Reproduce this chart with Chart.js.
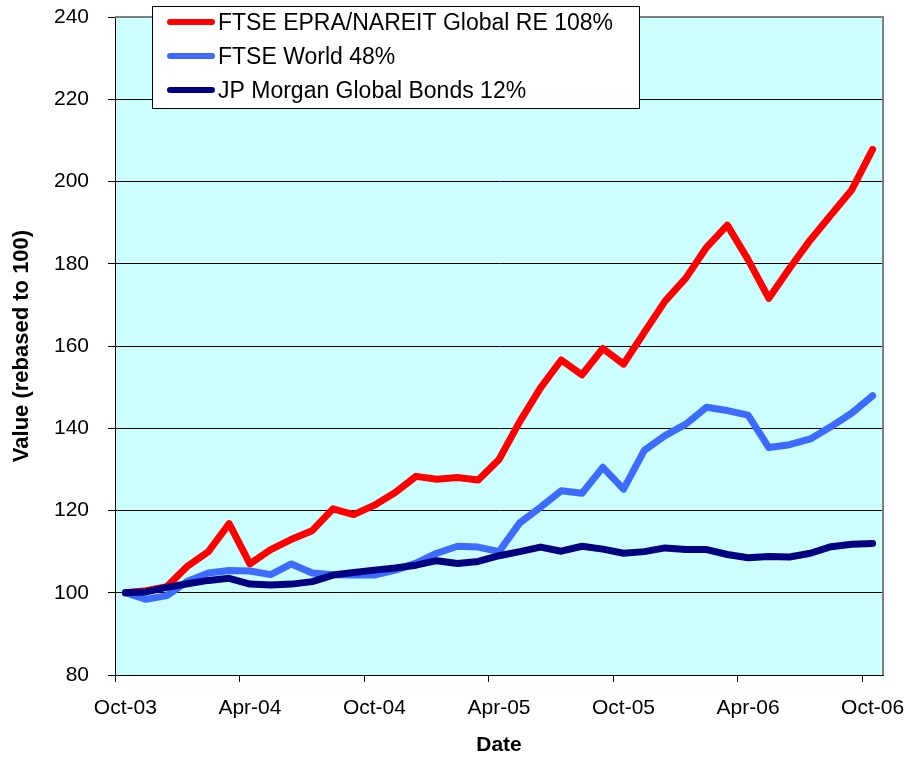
<!DOCTYPE html>
<html>
<head>
<meta charset="utf-8">
<script src="https://cdn.jsdelivr.net/npm/chart.js@4/dist/chart.umd.min.js"></script>
<style>
  html, body { margin: 0; padding: 0; background: #fff; }
  #wrap { width: 907px; height: 757px; }
</style>
</head>
<body>
<div id="wrap"><canvas id="chart" width="907" height="757"></canvas></div>
<script>
// monthly points, Oct-03 .. Oct-06
const months = [
  'Oct-03', 'Nov-03', 'Dec-03', 'Jan-04', 'Feb-04', 'Mar-04', 'Apr-04', 'May-04', 'Jun-04',
  'Jul-04', 'Aug-04', 'Sep-04', 'Oct-04', 'Nov-04', 'Dec-04', 'Jan-05', 'Feb-05', 'Mar-05',
  'Apr-05', 'May-05', 'Jun-05', 'Jul-05', 'Aug-05', 'Sep-05', 'Oct-05', 'Nov-05', 'Dec-05',
  'Jan-06', 'Feb-06', 'Mar-06', 'Apr-06', 'May-06', 'Jun-06', 'Jul-06', 'Aug-06', 'Sep-06', 'Oct-06'
]

const globalRE = [
  100, 100.5, 101.5, 106.5, 110.0, 116.8, 107.0, 110.5, 113.0, 115.1,
  120.4, 119.0, 121.3, 124.4, 128.3, 127.6, 128.0, 127.4, 132.4, 141.6,
  149.8, 156.6, 153.0, 159.4, 155.6, 163.3, 170.9, 176.5, 184.0, 189.4,
  181.0, 171.6, 178.9, 185.8, 191.9, 198.0, 207.8
]
const ftseWorld = [
  100, 98.4, 99.3, 102.8, 104.8, 105.4, 105.3, 104.4, 107.0, 104.8,
  104.4, 104.3, 104.3, 105.5, 107.2, 109.6, 111.3, 111.1, 110.0, 117.0,
  120.8, 124.8, 124.2, 130.5, 125.2, 134.6, 138.2, 141.0, 145.1, 144.3,
  143.2, 135.3, 136.0, 137.4, 140.4, 143.7, 147.9
]
const jpmBonds = [
  100, 100.2, 101.3, 102.2, 103.0, 103.5, 102.1, 101.9, 102.1, 102.7,
  104.3, 104.9, 105.5, 106.0, 106.7, 107.8, 107.1, 107.6, 109.0, 110.0,
  111.1, 110.1, 111.3, 110.6, 109.6, 110.0, 110.9, 110.5, 110.5, 109.3,
  108.5, 108.8, 108.7, 109.6, 111.2, 111.8, 112.0
]

const seriesNames = [
  'FTSE EPRA/NAREIT Global RE 108%',
  'FTSE World 48%',
  'JP Morgan Global Bonds 12%'
]
const seriesColors = ['#ff0000', '#3d6bff', '#000080']

const FONT = "'Liberation Sans', Arial, sans-serif"

// light cyan plot area + grey frame on top/right
const plotBg = {
  id: 'plotBg',
  beforeDraw(chart) {
    const { ctx, chartArea: a } = chart
    ctx.save()
    ctx.fillStyle = '#ccffff'
    ctx.fillRect(a.left, a.top, a.right - a.left, a.bottom - a.top)
    ctx.restore()
  },
  beforeDatasetsDraw(chart) {
    const { ctx, chartArea: a } = chart
    ctx.save()
    ctx.strokeStyle = '#808080'
    ctx.lineWidth = 2
    ctx.beginPath()
    ctx.moveTo(a.left, a.top)
    ctx.lineTo(a.right, a.top)
    ctx.lineTo(a.right, a.bottom)
    ctx.stroke()
    ctx.restore()
  }
}

// boxed legend sitting over the top of the plot
const boxLegend = {
  id: 'boxLegend',
  afterDraw(chart) {
    const ctx = chart.ctx
    const x = 152.5, y = 6.5, w = 487, h = 102
    ctx.save()
    ctx.fillStyle = '#fff'
    ctx.fillRect(x, y, w, h)
    ctx.strokeStyle = '#000'
    ctx.lineWidth = 1
    ctx.strokeRect(x, y, w, h)
    ctx.font = '23px ' + FONT
    ctx.textBaseline = 'middle'
    ctx.fillStyle = '#000'
    ctx.lineCap = 'round'
    for (let i = 0; i < seriesNames.length; i++) {
      const ry = 22 + i * 34
      ctx.strokeStyle = seriesColors[i]
      ctx.lineWidth = 6
      ctx.beginPath()
      ctx.moveTo(170, ry)
      ctx.lineTo(212, ry)
      ctx.stroke()
      ctx.fillText(seriesNames[i], 218, ry + 2)
    }
    ctx.restore()
  }
}

function lineSet(i, data, order) {
  return {
    label: seriesNames[i],
    data: data,
    borderColor: seriesColors[i],
    backgroundColor: seriesColors[i],
    borderWidth: 7,
    pointRadius: 0,
    tension: 0,
    borderCapStyle: 'round',
    borderJoinStyle: 'round',
    order: order
  }
}

const ctx = document.getElementById('chart').getContext('2d')
const chart = new Chart(ctx, {
  type: 'line',
  data: {
    labels: months,
    datasets: [
      lineSet(0, globalRE, 2),
      lineSet(1, ftseWorld, 1),
      lineSet(2, jpmBonds, 0)
    ]
  },
  options: {
    responsive: false,
    animation: false,
    events: [],
    layout: { padding: { top: 17, right: 24, left: 0, bottom: 0 } },
    plugins: {
      legend: { display: false },
      tooltip: { enabled: false }
    },
    scales: {
      x: {
        offset: true,
        afterFit: s => {
          s.height = 82
          s.paddingLeft = 0
          s.paddingRight = 0
        },
        grid: {
          offset: true,
          drawOnChartArea: false,
          tickLength: 7,
          tickColor: c => (c.index % 6 === 0 ? '#000' : 'rgba(0,0,0,0)')
        },
        border: { color: '#000', width: 1 },
        ticks: {
          autoSkip: false,
          maxRotation: 0,
          padding: 14,
          color: '#000',
          font: { family: FONT, size: 21 },
          callback: function (val, i) {
            return i % 6 === 0 ? this.getLabelForValue(val) : ''
          }
        },
        title: {
          display: true,
          text: 'Date',
          color: '#000',
          font: { family: FONT, size: 21, weight: 'bold', lineHeight: 1.1 },
          padding: { top: 0, bottom: 0 }
        }
      },
      y: {
        min: 80,
        max: 240,
        afterFit: s => {
          s.width = 115
          s.paddingTop = 0
          s.paddingBottom = 0
        },
        grid: { color: '#000', lineWidth: 1, tickLength: 7 },
        border: { color: '#000', width: 1 },
        ticks: {
          stepSize: 20,
          padding: 19,
          color: '#000',
          font: { family: FONT, size: 21 }
        },
        title: {
          display: true,
          text: 'Value (rebased to 100)',
          color: '#000',
          font: { family: FONT, size: 22, weight: 'bold' },
          padding: { top: 9, bottom: 0 }
        }
      }
    }
  },
  plugins: [plotBg, boxLegend]
})
</script>
</body>
</html>
